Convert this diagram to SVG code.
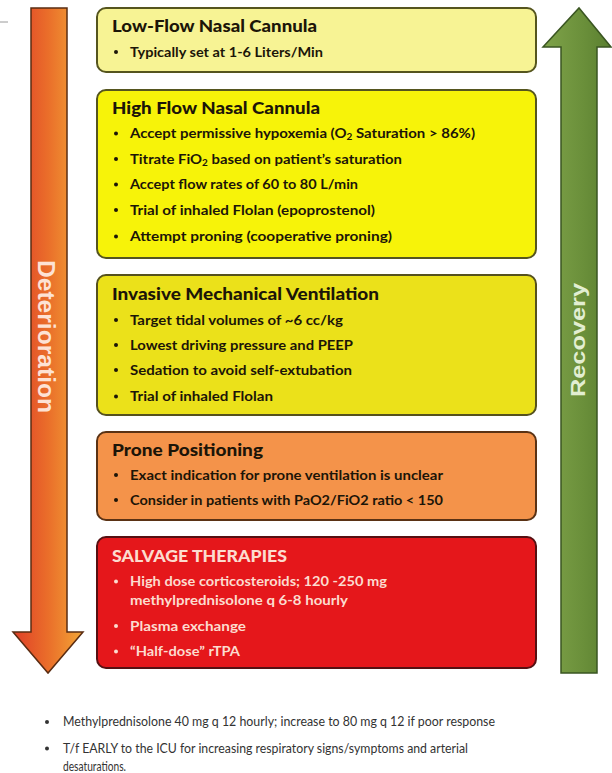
<svg xmlns="http://www.w3.org/2000/svg" width="612" height="773" viewBox="0 0 612 773">
<defs>
<linearGradient id="gDet" x1="0" y1="0" x2="1" y2="0">
<stop offset="0" stop-color="#df3f28"/>
<stop offset="0.5" stop-color="#ea6e2a"/>
<stop offset="1" stop-color="#f3a636"/>
</linearGradient>
<linearGradient id="gRec" x1="0" y1="0" x2="1" y2="0">
<stop offset="0" stop-color="#7fa34a"/>
<stop offset="0.6" stop-color="#6a8f3a"/>
<stop offset="1" stop-color="#5a7f30"/>
</linearGradient>
<style>
.box{stroke-width:2}
.t{font-family:Lato,"Liberation Sans",sans-serif;font-weight:900;font-size:16px;fill:#1c1508}
.b{font-family:Lato,"Liberation Sans",sans-serif;font-weight:bold;font-size:13.5px;fill:#1c1508}
.w{fill:#fcdccf}
.dot{fill:#1c1508}
.wd{fill:#fcdccf}
.n{font-family:Lato,"Liberation Sans",sans-serif;font-size:12.5px;fill:#333333}
.ar{font-family:"Liberation Sans",Arial,sans-serif;font-weight:bold}
</style>
</defs>
<rect width="612" height="773" fill="#ffffff"/>
<line x1="0" y1="22" x2="8" y2="22" stroke="#9a9a9a" stroke-width="1"/>

<g id="connectors">
<g id="arrow-deterioration">
<path d="M31,8 H67 V632 H83 L48,673 L13,632 H31 Z" fill="url(#gDet)" stroke="#5a2c12" stroke-width="1.5" stroke-linejoin="miter"/>
<text class="ar" font-size="24" fill="#fde2d4" text-anchor="middle" textLength="153" lengthAdjust="spacingAndGlyphs" transform="translate(38,336.5) rotate(90)">Deterioration</text>
</g>
<g id="arrow-recovery">
<path d="M561,673 V47 H543 L579,8 L611,47 H597 V673 Z" fill="url(#gRec)" stroke="#3a5522" stroke-width="1.5" stroke-linejoin="miter"/>
<text class="ar" font-size="21" fill="#e2eed2" text-anchor="middle" textLength="114" lengthAdjust="spacingAndGlyphs" transform="translate(585,340) rotate(-90)">Recovery</text>
</g>
</g>

<g id="low-flow">
<rect class="box" x="97" y="8" width="439" height="64" rx="9" fill="#f7f394" stroke="#55551e"/>
<text class="t" x="112" y="31.5" textLength="205" lengthAdjust="spacingAndGlyphs">Low-Flow Nasal Cannula</text>
<circle class="dot" cx="116" cy="52" r="2"/>
<text class="b" x="130" y="56.5" textLength="193" lengthAdjust="spacingAndGlyphs">Typically set at 1-6 Liters/Min</text>
</g>

<g id="high-flow">
<rect class="box" x="97" y="90" width="439" height="168" rx="9" fill="#f7f309" stroke="#55551e"/>
<text class="t" x="112" y="113.5" textLength="208" lengthAdjust="spacingAndGlyphs">High Flow Nasal Cannula</text>
<circle class="dot" cx="116" cy="133.5" r="2"/>
<text class="b" x="130" y="138" textLength="345" lengthAdjust="spacingAndGlyphs">Accept permissive hypoxemia (O<tspan font-size="9" dy="2">2</tspan><tspan dy="-2"> Saturation &gt; 86%)</tspan></text>
<circle class="dot" cx="116" cy="159" r="2"/>
<text class="b" x="130" y="163.5" textLength="272" lengthAdjust="spacingAndGlyphs">Titrate FiO<tspan font-size="9" dy="2">2</tspan><tspan dy="-2"> based on patient’s saturation</tspan></text>
<circle class="dot" cx="116" cy="184.5" r="2"/>
<text class="b" x="130" y="189" textLength="228" lengthAdjust="spacingAndGlyphs">Accept flow rates of 60 to 80 L/min</text>
<circle class="dot" cx="116" cy="210" r="2"/>
<text class="b" x="130" y="214.5" textLength="245" lengthAdjust="spacingAndGlyphs">Trial of inhaled Flolan (epoprostenol)</text>
<circle class="dot" cx="116" cy="236.5" r="2"/>
<text class="b" x="130" y="241" textLength="262" lengthAdjust="spacingAndGlyphs">Attempt proning (cooperative proning)</text>
</g>

<g id="invasive">
<rect class="box" x="97" y="275" width="439" height="140" rx="9" fill="#ebe11a" stroke="#55511e"/>
<text class="t" x="112" y="299.5" textLength="267" lengthAdjust="spacingAndGlyphs">Invasive Mechanical Ventilation</text>
<circle class="dot" cx="116" cy="320" r="2"/>
<text class="b" x="130" y="324.5" textLength="213" lengthAdjust="spacingAndGlyphs">Target tidal volumes of ~6 cc/kg</text>
<circle class="dot" cx="116" cy="345" r="2"/>
<text class="b" x="130" y="349.5" textLength="223" lengthAdjust="spacingAndGlyphs">Lowest driving pressure and PEEP</text>
<circle class="dot" cx="116" cy="370" r="2"/>
<text class="b" x="130" y="374.5" textLength="222" lengthAdjust="spacingAndGlyphs">Sedation to avoid self-extubation</text>
<circle class="dot" cx="116" cy="396.5" r="2"/>
<text class="b" x="130" y="401" textLength="143" lengthAdjust="spacingAndGlyphs">Trial of inhaled Flolan</text>
</g>

<g id="prone">
<rect class="box" x="97" y="432" width="439" height="88" rx="9" fill="#f4934a" stroke="#5a3214"/>
<text class="t" x="112" y="456" textLength="151" lengthAdjust="spacingAndGlyphs">Prone Positioning</text>
<circle class="dot" cx="116" cy="475" r="2"/>
<text class="b" x="130" y="479.5" textLength="313" lengthAdjust="spacingAndGlyphs">Exact indication for prone ventilation is unclear</text>
<circle class="dot" cx="116" cy="500" r="2"/>
<text class="b" x="130" y="504.5" textLength="313" lengthAdjust="spacingAndGlyphs">Consider in patients with PaO2/FiO2 ratio &lt; 150</text>
</g>

<g id="salvage">
<rect class="box" x="97" y="537" width="439" height="131" rx="9" fill="#e5171b" stroke="#561012"/>
<text class="t w" x="112" y="561.5" textLength="175" lengthAdjust="spacingAndGlyphs">SALVAGE THERAPIES</text>
<circle class="wd" cx="116" cy="581.5" r="2"/>
<text class="b w" x="130" y="586" textLength="257" lengthAdjust="spacingAndGlyphs">High dose corticosteroids; 120 -250 mg</text>
<text class="b w" x="130" y="604.5" textLength="218" lengthAdjust="spacingAndGlyphs">methylprednisolone q 6-8 hourly</text>
<circle class="wd" cx="116" cy="626" r="2"/>
<text class="b w" x="130" y="630.5" textLength="116" lengthAdjust="spacingAndGlyphs">Plasma exchange</text>
<circle class="wd" cx="116" cy="651.5" r="2"/>
<text class="b w" x="130" y="656" textLength="110" lengthAdjust="spacingAndGlyphs">“Half-dose” rTPA</text>
</g>

<g id="notes">
<circle fill="#333333" cx="47" cy="722" r="2"/>
<text class="n" x="63" y="726" textLength="432" lengthAdjust="spacingAndGlyphs">Methylprednisolone 40 mg q 12 hourly; increase to 80 mg q 12 if poor response</text>
<circle fill="#333333" cx="47" cy="748.5" r="2"/>
<text class="n" x="63" y="752.5" textLength="405" lengthAdjust="spacingAndGlyphs">T/f EARLY to the ICU for increasing respiratory signs/symptoms and arterial</text>
<text class="n" x="63" y="771" textLength="63" lengthAdjust="spacingAndGlyphs">desaturations.</text>
</g>
</svg>
